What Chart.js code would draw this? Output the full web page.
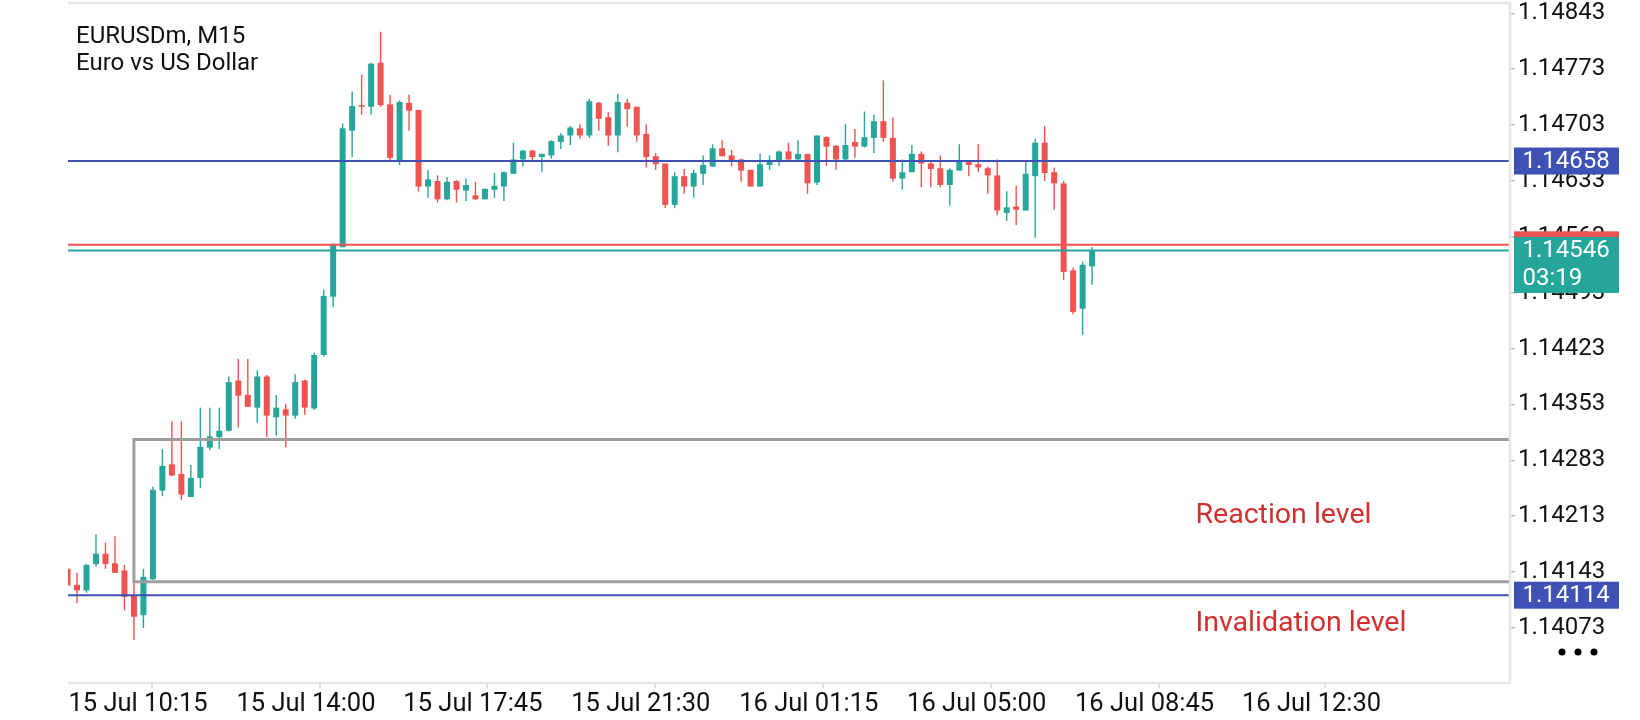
<!DOCTYPE html>
<html lang="en">
<head>
<meta charset="utf-8">
<title>EURUSDm, M15</title>
<script src="https://cdn.jsdelivr.net/npm/chart.js@4.4.1/dist/chart.umd.min.js"></script>
<style>
  html, body { margin: 0; padding: 0; background: #fff; }
  #wrap { width: 1640px; height: 720px; }
</style>
</head>
<body>
<div id="wrap"><canvas id="priceChart" width="1640" height="720"></canvas></div>
<script>
// ============================================
// EURUSDm M15 — candles drawn as floating bars
// ============================================

const symbolTitle = 'EURUSDm, M15';
const symbolName = 'Euro vs US Dollar';

// one entry per M15 bar, oldest first
const opens = [
  1.14147, 1.14127, 1.14120, 1.14153, 1.14166, 1.14154, 1.14145, 1.14113, 1.14089, 1.14134,
  1.14245, 1.14278, 1.14266, 1.14237, 1.14261, 1.14299, 1.14312, 1.14320, 1.14383, 1.14365,
  1.14349, 1.14388, 1.14337, 1.14347, 1.14339, 1.14383, 1.14348, 1.14415, 1.14488, 1.14550,
  1.14696, 1.14728, 1.14726, 1.14781, 1.14729, 1.14658, 1.14731, 1.14722, 1.14626, 1.14633,
  1.14610, 1.14633, 1.14621, 1.14615, 1.14610, 1.14622, 1.14626, 1.14642, 1.14660, 1.14671,
  1.14663, 1.14665, 1.14682, 1.14690, 1.14699, 1.14690, 1.14731, 1.14713, 1.14690, 1.14731,
  1.14726, 1.14692, 1.14664, 1.14655, 1.14603, 1.14639, 1.14626, 1.14642, 1.14651, 1.14674,
  1.14665, 1.14660, 1.14647, 1.14626, 1.14653, 1.14659, 1.14670, 1.14660, 1.14667, 1.14631,
  1.14688, 1.14677, 1.14660, 1.14682, 1.14676, 1.14687, 1.14708, 1.14687, 1.14636, 1.14644,
  1.14667, 1.14655, 1.14649, 1.14628, 1.14646, 1.14657, 1.14654, 1.14649, 1.14640, 1.14593,
  1.14601, 1.14596, 1.14639, 1.14681, 1.14644, 1.14630, 1.14521, 1.14473, 1.14526
];
const highs = [
  1.14147, 1.14142, 1.14153, 1.14190, 1.14180, 1.14188, 1.14152, 1.14130, 1.14147, 1.14250,
  1.14297, 1.14332, 1.14332, 1.14277, 1.14349, 1.14349, 1.14349, 1.14388, 1.14410, 1.14410,
  1.14396, 1.14390, 1.14365, 1.14354, 1.14391, 1.14384, 1.14418, 1.14497, 1.14555, 1.14705,
  1.14745, 1.14766, 1.14781, 1.14820, 1.14741, 1.14734, 1.14741, 1.14722, 1.14647, 1.14640,
  1.14638, 1.14634, 1.14636, 1.14632, 1.14624, 1.14643, 1.14645, 1.14681, 1.14672, 1.14672,
  1.14667, 1.14684, 1.14693, 1.14702, 1.14704, 1.14736, 1.14732, 1.14719, 1.14742, 1.14736,
  1.14726, 1.14704, 1.14668, 1.14655, 1.14644, 1.14648, 1.14647, 1.14665, 1.14679, 1.14684,
  1.14672, 1.14661, 1.14647, 1.14667, 1.14665, 1.14671, 1.14681, 1.14684, 1.14667, 1.14690,
  1.14689, 1.14678, 1.14704, 1.14698, 1.14720, 1.14716, 1.14759, 1.14713, 1.14660, 1.14678,
  1.14670, 1.14657, 1.14665, 1.14649, 1.14679, 1.14657, 1.14679, 1.14651, 1.14660, 1.14620,
  1.14627, 1.14657, 1.14686, 1.14702, 1.14650, 1.14633, 1.14525, 1.14532, 1.14550
];
const lows = [
  1.14126, 1.14104, 1.14117, 1.14150, 1.14147, 1.14142, 1.14095, 1.14058, 1.14073, 1.14133,
  1.14238, 1.14263, 1.14233, 1.14237, 1.14248, 1.14296, 1.14297, 1.14319, 1.14324, 1.14350,
  1.14330, 1.14312, 1.14314, 1.14299, 1.14335, 1.14340, 1.14346, 1.14413, 1.14475, 1.14550,
  1.14663, 1.14716, 1.14716, 1.14726, 1.14659, 1.14653, 1.14696, 1.14620, 1.14612, 1.14606,
  1.14609, 1.14606, 1.14608, 1.14609, 1.14610, 1.14612, 1.14608, 1.14642, 1.14651, 1.14659,
  1.14644, 1.14661, 1.14673, 1.14678, 1.14686, 1.14687, 1.14696, 1.14677, 1.14669, 1.14701,
  1.14682, 1.14650, 1.14647, 1.14599, 1.14599, 1.14617, 1.14612, 1.14628, 1.14651, 1.14664,
  1.14651, 1.14632, 1.14626, 1.14626, 1.14647, 1.14652, 1.14659, 1.14658, 1.14617, 1.14628,
  1.14652, 1.14647, 1.14659, 1.14662, 1.14675, 1.14668, 1.14682, 1.14632, 1.14622, 1.14644,
  1.14625, 1.14625, 1.14625, 1.14602, 1.14646, 1.14639, 1.14644, 1.14617, 1.14590, 1.14583,
  1.14578, 1.14596, 1.14562, 1.14633, 1.14597, 1.14509, 1.14466, 1.14440, 1.14503
];
const closes = [
  1.14126, 1.14120, 1.14152, 1.14166, 1.14153, 1.14142, 1.14112, 1.14087, 1.14137, 1.14246,
  1.14276, 1.14264, 1.14240, 1.14261, 1.14300, 1.14313, 1.14320, 1.14381, 1.14364, 1.14350,
  1.14388, 1.14339, 1.14349, 1.14339, 1.14381, 1.14349, 1.14415, 1.14489, 1.14554, 1.14699,
  1.14727, 1.14726, 1.14780, 1.14728, 1.14662, 1.14732, 1.14721, 1.14626, 1.14635, 1.14610,
  1.14632, 1.14622, 1.14628, 1.14610, 1.14623, 1.14627, 1.14644, 1.14660, 1.14671, 1.14663,
  1.14667, 1.14683, 1.14690, 1.14700, 1.14690, 1.14733, 1.14711, 1.14690, 1.14732, 1.14723,
  1.14690, 1.14663, 1.14654, 1.14603, 1.14639, 1.14626, 1.14643, 1.14653, 1.14674, 1.14664,
  1.14659, 1.14646, 1.14626, 1.14654, 1.14657, 1.14670, 1.14660, 1.14667, 1.14630, 1.14690,
  1.14676, 1.14660, 1.14678, 1.14676, 1.14688, 1.14708, 1.14687, 1.14636, 1.14644, 1.14667,
  1.14655, 1.14648, 1.14628, 1.14647, 1.14657, 1.14653, 1.14650, 1.14640, 1.14596, 1.14600,
  1.14597, 1.14642, 1.14681, 1.14643, 1.14630, 1.14519, 1.14469, 1.14528, 1.14546
];

// time scale: label text and the bar position it sits on
const timeLabels = ['15 Jul 10:15', '15 Jul 14:00', '15 Jul 17:45', '15 Jul 21:30',
                    '16 Jul 01:15', '16 Jul 05:00', '16 Jul 08:45', '16 Jul 12:30'];
const timeTickBars = [0.1, 17.8, 35.4, 53.1, 70.8, 88.5, 106.2, 123.8];

const priceTicks = [1.14843, 1.14773, 1.14703, 1.14633, 1.14563, 1.14493,
                    1.14423, 1.14353, 1.14283, 1.14213, 1.14143, 1.14073];

// horizontal levels and the drawn zone
const levelPrices = [1.14658, 1.14114];
const bidPrice = 1.14546;
const askPrice = 1.14553;
const barTimeLeft = '03:19';
const zoneTop = 1.14309;
const zoneBottom = 1.14131;
const zoneStartBar = 7;
const zoneNotes = ['Reaction level', 'Invalidation level'];

const upColor = '#26a69a';
const downColor = '#ef5350';
const levelColor = '#3f51b5';
const noteColor = '#d32f2f';
const frameColor = '#e6e6e6';

function buildCandles() {
  const bodies = [];
  const wicks = [];
  const colors = [];
  for (let i = 0; i < opens.length; i++) {
    bodies.push({ x: i, y: [opens[i], closes[i]] });
    wicks.push({ x: i, y: [lows[i], highs[i]] });
    colors.push(closes[i] >= opens[i] ? upColor : downColor);
  }
  return { bodies, wicks, colors };
}

function hLine(ctx, area, yPix, color, width) {
  ctx.strokeStyle = color;
  ctx.lineWidth = width;
  ctx.beginPath();
  ctx.moveTo(area.left, yPix);
  ctx.lineTo(area.right, yPix);
  ctx.stroke();
}

function priceTag(ctx, area, yPix, bg, lines) {
  const left = area.right + 4;
  const top = yPix - 13.5;
  ctx.fillStyle = bg;
  ctx.fillRect(left, top, 105, 27 + 29 * (lines.length - 1));
  ctx.fillStyle = '#ffffff';
  ctx.font = '24px Roboto';
  ctx.textAlign = 'left';
  ctx.textBaseline = 'middle';
  lines.forEach((txt, k) => ctx.fillText(txt, left + 8.5, top + 14 + 27.7 * k));
}

const overlayPlugin = {
  id: 'overlay',
  afterDatasetsDraw(chart) {
    const { ctx, chartArea: area, scales: { x, y } } = chart;
    ctx.save();
    ctx.beginPath();
    ctx.rect(area.left, area.top, area.width, area.height);
    ctx.clip();

    // zone box (open on the right, runs into the frame)
    const zx = x.getPixelForValue(zoneStartBar);
    const zt = y.getPixelForValue(zoneTop);
    const zb = y.getPixelForValue(zoneBottom);
    ctx.strokeStyle = '#9e9e9e';
    ctx.lineWidth = 3;
    ctx.beginPath();
    ctx.moveTo(area.right, zt);
    ctx.lineTo(zx, zt);
    ctx.lineTo(zx, zb);
    ctx.lineTo(area.right, zb);
    ctx.stroke();

    levelPrices.forEach(p => hLine(ctx, area, y.getPixelForValue(p), levelColor, 2));
    hLine(ctx, area, y.getPixelForValue(askPrice), downColor, 2);
    hLine(ctx, area, y.getPixelForValue(bidPrice), upColor, 2);

    // notes
    ctx.fillStyle = noteColor;
    ctx.font = '28.5px Roboto';
    ctx.textAlign = 'left';
    ctx.textBaseline = 'middle';
    ctx.fillText(zoneNotes[0], x.getPixelForValue(118.9), y.getPixelForValue(1.14214));
    ctx.fillText(zoneNotes[1], x.getPixelForValue(118.9), y.getPixelForValue(1.14078));

    // symbol header
    ctx.fillStyle = '#111111';
    ctx.font = '24px Roboto';
    ctx.fillText(symbolTitle, area.left + 8, area.top + 34);
    ctx.fillText(symbolName, area.left + 8, area.top + 61);
    ctx.restore();
  },
  afterDraw(chart) {
    const { ctx, chartArea: area, scales: { y } } = chart;
    ctx.save();
    // frame: top, right, bottom
    ctx.strokeStyle = frameColor;
    ctx.lineWidth = 2.6;
    ctx.beginPath();
    ctx.moveTo(area.left, area.top);
    ctx.lineTo(area.right, area.top);
    ctx.lineTo(area.right, area.bottom);
    ctx.lineTo(area.left, area.bottom);
    ctx.stroke();

    // price tags on the scale
    priceTag(ctx, area, y.getPixelForValue(askPrice), downColor, ['']);
    priceTag(ctx, area, y.getPixelForValue(bidPrice), upColor, [bidPrice.toFixed(5), barTimeLeft]);
    levelPrices.forEach(p => priceTag(ctx, area, y.getPixelForValue(p), levelColor, [p.toFixed(5)]));

    // menu dots
    ctx.fillStyle = '#000000';
    [1562, 1578, 1594].forEach(cx => {
      ctx.beginPath();
      ctx.arc(cx, 652, 3.5, 0, Math.PI * 2);
      ctx.fill();
    });
    ctx.restore();
  }
};

function renderPriceChart() {
  const canvas = document.getElementById('priceChart');
  const ctx = canvas.getContext('2d');
  const candles = buildCandles();

  new Chart(ctx, {
    type: 'bar',
    data: {
      datasets: [
        {
          label: 'body',
          data: candles.bodies,
          backgroundColor: candles.colors,
          borderWidth: 0,
          grouped: false,
          maxBarThickness: 6,
          minBarLength: 1,
          clip: 0,
          order: 0
        },
        {
          label: 'wick',
          data: candles.wicks,
          backgroundColor: candles.colors,
          borderWidth: 0,
          grouped: false,
          maxBarThickness: 1.4,
          clip: 0,
          order: 1
        }
      ]
    },
    options: {
      responsive: false,
      animation: false,
      devicePixelRatio: 1,
      layout: { padding: { left: 68, top: 3, right: 0, bottom: 0 } },
      plugins: { legend: { display: false }, tooltip: { enabled: false } },
      scales: {
        x: {
          type: 'linear',
          position: 'bottom',
          min: 0.05,
          max: 152.05,
          bounds: 'data',
          offset: false,
          afterBuildTicks: s => { s.ticks = timeTickBars.map(v => ({ value: v })); },
          afterFit: s => { s.height = 37; s.paddingLeft = 0; s.paddingRight = 0; },
          border: { display: false },
          grid: { drawOnChartArea: false, drawTicks: true, tickLength: 5, color: '#e0e0e0', lineWidth: 2 },
          ticks: {
            autoSkip: false,
            maxRotation: 0,
            align: 'start',
            padding: 1,
            color: '#111111',
            font: { family: 'Roboto', size: 25.5 },
            callback: (v, i) => timeLabels[i]
          }
        },
        y: {
          type: 'linear',
          position: 'right',
          min: 1.14004,
          max: 1.14856,
          bounds: 'data',
          afterBuildTicks: s => { s.ticks = priceTicks.map(v => ({ value: v })); },
          afterFit: s => { s.width = 130; s.paddingTop = 0; s.paddingBottom = 0; },
          border: { display: false },
          grid: { drawOnChartArea: false, drawTicks: true, tickLength: 5, color: '#bdbdbd', lineWidth: 1.5 },
          ticks: {
            padding: 3,
            color: '#111111',
            font: { family: 'Roboto', size: 24 },
            callback: v => v.toFixed(5)
          }
        }
      }
    },
    plugins: [overlayPlugin]
  });
}

renderPriceChart();
</script>
</body>
</html>
